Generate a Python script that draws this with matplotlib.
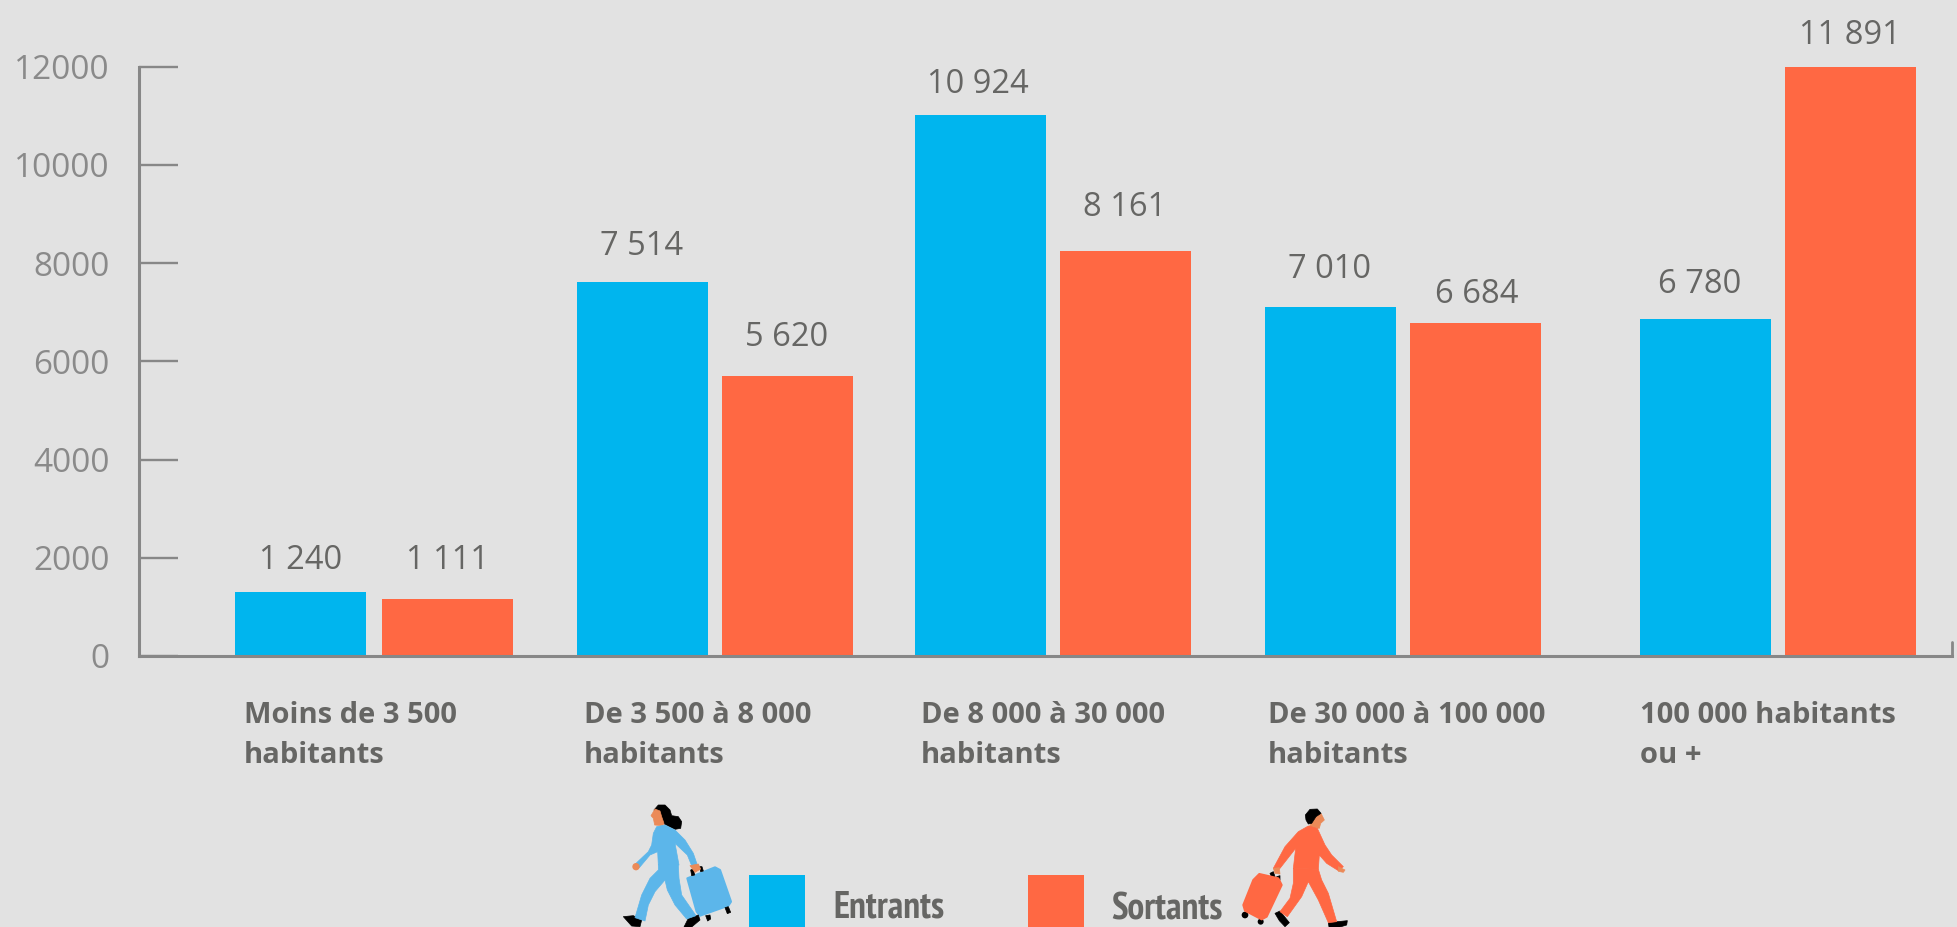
import matplotlib
matplotlib.use("Agg")
import matplotlib.pyplot as plt
from matplotlib.patches import Polygon, Circle, Rectangle

# data
categories = ["Moins de 3 500\nhabitants", "De 3 500 à 8 000\nhabitants", "De 8 000 à 30 000\nhabitants",
              "De 30 000 à 100 000\nhabitants", "100 000 habitants\nou +"]
# bar heights as read on the axis (the drawn bars sit a bit above their printed value)
entrants = [1294, 7611, 11010, 7104, 6850]
sortants = [1167, 5708, 8245, 6774, 12000]
entrants_labels = ["1 240", "7 514", "10 924", "7 010", "6 780"]
sortants_labels = ["1 111", "5 620", "8 161", "6 684", "11 891"]
y_ticks = [0, 2000, 4000, 6000, 8000, 10000, 12000]

W, H = 1957, 927
BG = "#E2E2E2"
BLUE = "#00B5EE"
ORANGE = "#FF6843"
AXIS = "#878787"
TEXT = "#666664"
PERSON_BLUE = "#5CB6EA"
SKIN = "#EB8A58"

# layout, in pixels of the picture
AX_LEFT, AX_RIGHT, AX_TOP, AX_BOTTOM = 139, 1952, 66.5, 656
entrants_left = [234.6, 576.6, 914.8, 1265, 1640]
sortants_left = [382, 721.5, 1059.6, 1410, 1785]
BAR_W = 131
entrants_label_x = [300.5, 642, 978, 1330, 1700]
sortants_label_x = [447.5, 787, 1125, 1477, 1850]
entrants_label_base = [569, 255, 93, 278, 293]
sortants_label_base = [569, 346, 216, 303, 44]
category_x = [243.6, 584, 921, 1268, 1640]

fig = plt.figure(figsize=(W / 100, H / 100), dpi=100, facecolor=BG)
plt.rcParams["font.family"] = ["Open Sans", "DejaVu Sans"]

ax = fig.add_axes([AX_LEFT / W, 1 - AX_BOTTOM / H, (AX_RIGHT - AX_LEFT) / W, (AX_BOTTOM - AX_TOP) / H])
ax.set_facecolor("none")
ax.set_xlim(AX_LEFT, AX_RIGHT)
ax.set_ylim(0, 12000)

ax.bar(entrants_left, entrants, width=BAR_W, align="edge", color=BLUE, linewidth=0, zorder=2)
ax.bar(sortants_left, sortants, width=BAR_W, align="edge", color=ORANGE, linewidth=0, zorder=2)

ax.spines["top"].set_visible(False)
ax.spines["right"].set_visible(False)
for s in ["left", "bottom"]:
    ax.spines[s].set_color(AXIS)
    ax.spines[s].set_linewidth(2.2)
    ax.spines[s].set_zorder(3)
ax.set_xticks([])
ax.set_yticks(y_ticks)
ax.tick_params(axis="y", direction="in", length=28, width=1.7, color=AXIS, pad=21,
               labelsize=24, labelcolor="#8A8A8A")
for lab in ax.get_yticklabels():
    lab.set_fontfamily("Open Sans")

# overlay in picture pixels for everything that is not on the scales
px = fig.add_axes([0, 0, 1, 1])
px.set_xlim(0, W)
px.set_ylim(H, 0)
px.axis("off")
px.set_facecolor("none")

# small end tick of the x axis
px.plot([1952, 1952], [642, 656], color=AXIS, lw=2.0, solid_capstyle="round")

for i in range(len(categories)):
    px.text(entrants_label_x[i], entrants_label_base[i], entrants_labels[i], ha="center", va="baseline",
            fontsize=23.5, color=TEXT, family="Open Sans")
    px.text(sortants_label_x[i], sortants_label_base[i], sortants_labels[i], ha="center", va="baseline",
            fontsize=23.5, color=TEXT, family="Open Sans")
    line1, line2 = categories[i].split("\n")
    px.text(category_x[i], 723, line1, ha="left", va="baseline", fontsize=21, color=TEXT,
            family="Open Sans", fontweight="bold")
    px.text(category_x[i], 763, line2, ha="left", va="baseline", fontsize=21, color=TEXT,
            family="Open Sans", fontweight="bold")

# legend
px.add_patch(Rectangle((749, 875), 56, 60, color=BLUE, lw=0))
px.add_patch(Rectangle((1028, 875), 56, 60, color=ORANGE, lw=0))
narrow = ["PT Sans Narrow", "Fira Sans Condensed", "IBM Plex Sans Condensed", "Open Sans"]
px.text(833, 917, "Entrants", ha="left", va="baseline", fontsize=27, color=TEXT, family=narrow, fontweight="bold")
px.text(1111, 919, "Sortants", ha="left", va="baseline", fontsize=27, color=TEXT, family=narrow, fontweight="bold")


def shape(ox, oy, pts, color, round_edge=0.0):
    # pts are in 3x zoom coordinates of the icon
    p = [(ox + x / 3, oy + y / 3) for x, y in pts]
    px.add_patch(Polygon(p, closed=True, facecolor=color, edgecolor=color, lw=round_edge, joinstyle="round"))


def dot(ox, oy, x, y, r, color):
    px.add_patch(Circle((ox + x / 3, oy + y / 3), r / 3, color=color, lw=0))


# woman with suitcase
ox, oy = 610, 795
shape(ox, oy, [(232, 250), (315, 217), (330, 225), (363, 320), (355, 332), (270, 362), (260, 350)], PERSON_BLUE, 1.5)
for pts in ([(242, 225), (250, 222), (254, 240), (245, 242)], [(268, 215), (276, 215), (280, 228), (272, 230)],
            [(345, 338), (355, 335), (362, 352), (352, 356)], [(287, 362), (300, 360), (302, 372), (293, 378)]):
    shape(ox, oy, pts, "black", 0.5)
shape(ox, oy, [(40, 365), (70, 362), (95, 375), (90, 395), (65, 393)], "black", 0.5)
shape(ox, oy, [(235, 370), (265, 360), (270, 375), (245, 396), (222, 396)], "black", 0.5)
shape(ox, oy, [(145, 208), (205, 210), (207, 250), (215, 300), (258, 362), (230, 372), (195, 330), (172, 285),
               (165, 255), (135, 290), (115, 330), (105, 378), (75, 368), (95, 300), (120, 250), (145, 225)], PERSON_BLUE, 0.5)
shape(ox, oy, [(132, 45), (145, 30), (165, 30), (180, 45), (185, 62), (205, 65), (215, 80), (212, 100), (195, 103),
               (172, 92), (160, 85), (155, 70), (150, 50), (135, 50)], "black", 0.5)
shape(ox, oy, [(135, 42), (123, 62), (130, 70), (134, 90), (158, 92), (162, 85), (155, 65), (150, 48)], SKIN, 0.5)
shape(ox, oy, [(140, 95), (165, 90), (195, 105), (225, 135), (250, 175), (262, 210), (245, 212), (232, 180), (195, 145),
               (207, 210), (145, 210), (143, 170), (120, 180), (88, 218), (78, 205), (115, 170), (125, 150), (130, 115)],
      PERSON_BLUE, 0.5)
dot(ox, oy, 78, 215, 11, SKIN)
shape(ox, oy, [(240, 212), (265, 207), (272, 222), (255, 232)], SKIN, 0.5)

# man with suitcase
ox, oy = 1230, 800
for pts in ([(120, 220), (130, 215), (135, 230), (125, 232)], [(140, 230), (150, 227), (150, 240), (142, 240)]):
    shape(ox, oy, pts, "black", 0.5)
dot(ox, oy, 45, 345, 10, "black")
dot(ox, oy, 92, 365, 9, "black")
shape(ox, oy, [(88, 222), (145, 235), (155, 255), (110, 350), (95, 358), (45, 332), (40, 315), (70, 240)], ORANGE, 1.5)
shape(ox, oy, [(135, 340), (150, 333), (178, 368), (165, 380), (148, 362)], "black", 0.5)
shape(ox, oy, [(295, 368), (352, 362), (350, 375), (330, 381), (297, 381)], "black", 0.5)
shape(ox, oy, [(190, 205), (265, 208), (275, 240), (295, 280), (320, 365), (295, 368), (265, 300), (235, 245), (215, 290),
               (172, 350), (150, 335), (180, 295), (190, 250)], ORANGE, 0.5)
shape(ox, oy, [(273, 40), (283, 60), (272, 70), (268, 85), (238, 80), (245, 65), (258, 50)], SKIN, 0.5)
shape(ox, oy, [(226, 45), (240, 28), (262, 27), (273, 40), (258, 50), (245, 70), (235, 72), (228, 60)], "black", 0.5)
shape(ox, oy, [(235, 78), (262, 85), (285, 135), (305, 165), (340, 200), (325, 212), (290, 190), (268, 165), (265, 208),
               (190, 205), (197, 145), (150, 205), (130, 205), (165, 140), (205, 95)], ORANGE, 0.5)
shape(ox, oy, [(130, 205), (148, 203), (150, 222), (135, 220)], SKIN, 0.5)
shape(ox, oy, [(325, 200), (345, 210), (340, 217), (325, 214)], SKIN, 0.5)

fig.savefig("out.png", dpi=100, facecolor=BG)
